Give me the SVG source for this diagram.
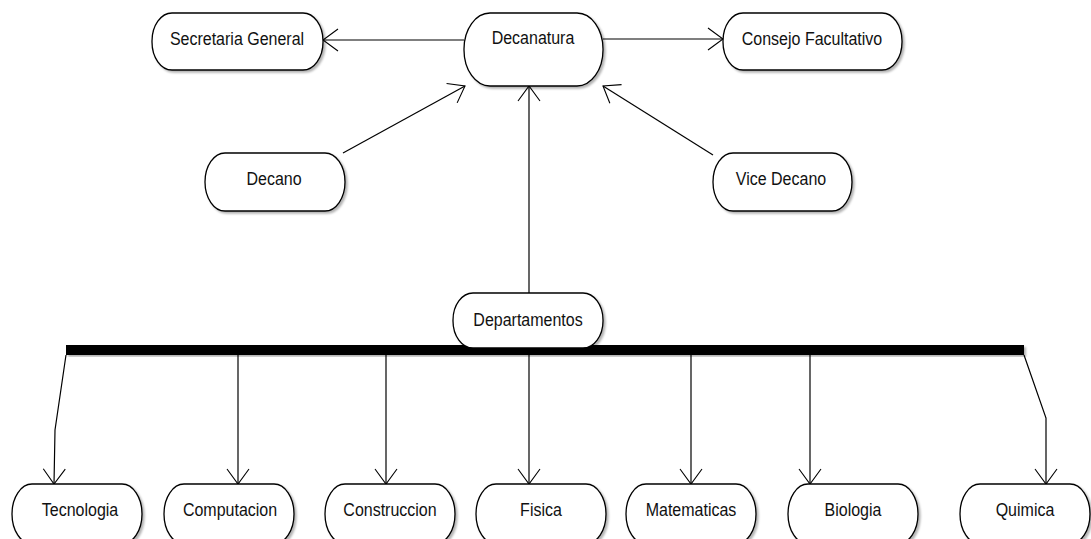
<svg xmlns="http://www.w3.org/2000/svg" width="1091" height="539" viewBox="0 0 1091 539">
  <defs>
    <filter id="shadow" x="-10%" y="-10%" width="125%" height="130%">
      <feDropShadow dx="2" dy="2" stdDeviation="1" flood-color="#000" flood-opacity="0.3"/>
    </filter>
    <marker id="open" markerUnits="userSpaceOnUse" markerWidth="24" markerHeight="28" refX="17" refY="12" orient="auto" overflow="visible">
      <path d="M2,1 L17,12 L2,23" fill="none" stroke="#000" stroke-width="1.1"/>
    </marker>
  </defs>
  <style>
    .node rect { fill: #fff; stroke: #000; stroke-width: 1.3; filter: url(#shadow); }
    .node text { font-family: "Liberation Sans", Arial, sans-serif; font-size: 16px; fill: #111; text-anchor: middle; }
    .edge { fill: none; stroke: #000; stroke-width: 1.2; marker-end: url(#open); }
  </style>
  <rect width="1091" height="539" fill="#fff"/>

  <!-- connectors -->
  <g id="connectors">
    <line class="edge" x1="464" y1="40" x2="323" y2="40"/>
    <line class="edge" x1="603" y1="39" x2="723" y2="39"/>
    <line class="edge" x1="343" y1="153" x2="465" y2="86"/>
    <line class="edge" x1="713" y1="155" x2="603" y2="86"/>
    <line class="edge" x1="529" y1="293" x2="529" y2="86"/>
    <polyline class="edge" points="66,355 55,430 54,484"/>
    <line class="edge" x1="238" y1="355" x2="238" y2="484"/>
    <line class="edge" x1="386" y1="355" x2="386" y2="484"/>
    <line class="edge" x1="529" y1="355" x2="529" y2="484"/>
    <line class="edge" x1="691" y1="355" x2="691" y2="484"/>
    <line class="edge" x1="810" y1="355" x2="810" y2="484"/>
    <polyline class="edge" points="1024,355 1046,418 1046,484"/>
  </g>

  <!-- fork bar -->
  <rect id="fork" x="66" y="345" width="958" height="10" fill="#000" filter="url(#shadow)"/>

  <!-- nodes -->
  <g id="secretaria" class="node">
    <rect x="152" y="13" width="171" height="57" rx="20" ry="28"/>
    <text transform="translate(237,45) scale(1,1.17)">Secretaria General</text>
  </g>
  <g id="decanatura" class="node">
    <rect x="464" y="13" width="139" height="73" rx="26" ry="36"/>
    <text transform="translate(533,44) scale(1,1.17)">Decanatura</text>
  </g>
  <g id="consejo" class="node">
    <rect x="723" y="13" width="179" height="57" rx="20" ry="28"/>
    <text transform="translate(812,45) scale(1,1.17)">Consejo Facultativo</text>
  </g>
  <g id="decano" class="node">
    <rect x="205" y="153" width="140" height="58" rx="20" ry="29"/>
    <text transform="translate(274,185) scale(1,1.17)">Decano</text>
  </g>
  <g id="vicedecano" class="node">
    <rect x="713" y="153" width="139" height="58" rx="20" ry="29"/>
    <text transform="translate(781,185) scale(1,1.17)">Vice Decano</text>
  </g>
  <g id="departamentos" class="node">
    <rect x="453" y="293" width="150" height="55" rx="20" ry="27"/>
    <text transform="translate(528,326) scale(1,1.17)">Departamentos</text>
  </g>
  <g id="tecnologia" class="node">
    <rect x="12" y="484" width="130" height="60" rx="20" ry="30"/>
    <text transform="translate(80,516) scale(1,1.17)">Tecnologia</text>
  </g>
  <g id="computacion" class="node">
    <rect x="164" y="484" width="130" height="60" rx="20" ry="30"/>
    <text transform="translate(230,516) scale(1,1.17)">Computacion</text>
  </g>
  <g id="construccion" class="node">
    <rect x="325" y="484" width="130" height="60" rx="20" ry="30"/>
    <text transform="translate(390,516) scale(1,1.17)">Construccion</text>
  </g>
  <g id="fisica" class="node">
    <rect x="476" y="484" width="130" height="60" rx="20" ry="30"/>
    <text transform="translate(541,516) scale(1,1.17)">Fisica</text>
  </g>
  <g id="matematicas" class="node">
    <rect x="626" y="484" width="130" height="60" rx="20" ry="30"/>
    <text transform="translate(691,516) scale(1,1.17)">Matematicas</text>
  </g>
  <g id="biologia" class="node">
    <rect x="788" y="484" width="130" height="60" rx="20" ry="30"/>
    <text transform="translate(853,516) scale(1,1.17)">Biologia</text>
  </g>
  <g id="quimica" class="node">
    <rect x="960" y="484" width="130" height="60" rx="20" ry="30"/>
    <text transform="translate(1025,516) scale(1,1.17)">Quimica</text>
  </g>
</svg>
